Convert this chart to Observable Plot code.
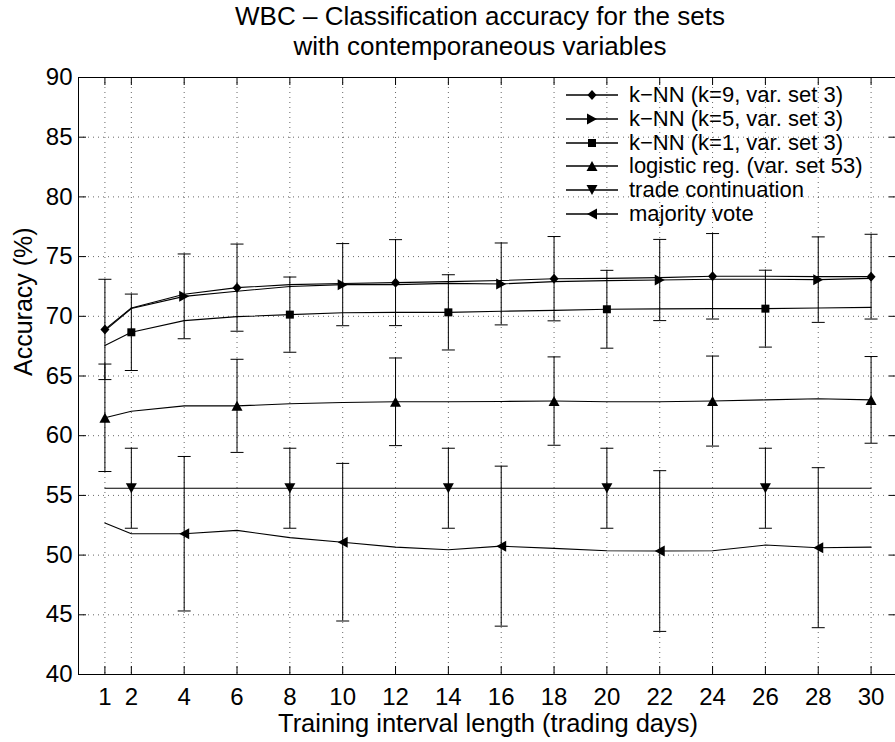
<!DOCTYPE html>
<html><head><meta charset="utf-8">
<script src="https://cdn.jsdelivr.net/npm/d3@7"></script>
<script src="https://cdn.jsdelivr.net/npm/@observablehq/plot@0.6"></script>
<style>
html,body{margin:0;padding:0;background:#fff;overflow:hidden;}
#wrap{position:relative;width:895px;height:742px;font-family:"Liberation Sans",Arial,Helvetica,sans-serif;color:#000;overflow:hidden;}
#title{position:absolute;left:0;top:1px;width:960px;text-align:center;font-size:26px;line-height:30px;white-space:nowrap;}
#chart{position:absolute;left:0;top:62px;}
.lg-row{position:absolute;left:566px;height:24px;display:flex;align-items:center;white-space:nowrap;}
.lg-row span{margin-left:11px;font-size:22px;line-height:24px;}
</style></head>
<body><div id="wrap">
<div id="title">WBC – Classification accuracy for the sets<br>with contemporaneous variables</div>
<div id="chart"></div>
<div id="legend"></div>
</div>
<script>
// ---------- data ----------
const xValues = [1, 2, 4, 6, 8, 10, 12, 14, 16, 18, 20, 22, 24, 26, 28, 30];
const xTicks = [1, 2, 4, 6, 8, 10, 12, 14, 16, 18, 20, 22, 24, 26, 28, 30];
const yTicks = [40, 45, 50, 55, 60, 65, 70, 75, 80, 85, 90];

const seriesNames = [
  "k−NN (k=9, var. set 3)",
  "k−NN (k=5, var. set 3)",
  "k−NN (k=1, var. set 3)",
  "logistic reg. (var. set 53)",
  "trade continuation",
  "majority vote"
];

const knn9 = [68.9, 70.7, 71.85, 72.4, 72.65, 72.75, 72.82, 72.9, 73.0, 73.15, 73.18, 73.24, 73.35, 73.35, 73.32, 73.32];
const knn5 = [68.8, 70.65, 71.67, 72.1, 72.5, 72.65, 72.65, 72.76, 72.71, 72.9, 72.99, 73.04, 73.1, 73.1, 73.07, 73.18];
const knn1 = [67.55, 68.66, 69.64, 69.97, 70.14, 70.3, 70.33, 70.33, 70.42, 70.5, 70.59, 70.62, 70.64, 70.64, 70.7, 70.75];
const logit = [61.5, 62.05, 62.5, 62.5, 62.67, 62.78, 62.84, 62.84, 62.87, 62.9, 62.84, 62.84, 62.9, 63.0, 63.09, 63.0];
const trade = [55.6, 55.6, 55.6, 55.6, 55.6, 55.6, 55.6, 55.6, 55.6, 55.6, 55.6, 55.6, 55.6, 55.6, 55.6, 55.6];
const majority = [52.68, 51.79, 51.79, 52.07, 51.46, 51.08, 50.67, 50.45, 50.75, 50.56, 50.37, 50.34, 50.37, 50.84, 50.62, 50.67];

// x positions that carry a marker and an error bar, per series
const knn9MarkX = [1, 6, 12, 18, 24, 30];
const knn5MarkX = [4, 10, 16, 22, 28];
const knn1MarkX = [2, 8, 14, 20, 26];
const logitMarkX = [1, 6, 12, 18, 24, 30];
const tradeMarkX = [2, 8, 14, 20, 26];
const majorityMarkX = [4, 10, 16, 22, 28];

// error bar half-widths (accuracy %), at the marker positions
const knn9Err = [4.2, 3.65, 3.6, 3.53, 3.58, 3.55];
const knn5Err = [3.55, 3.44, 3.43, 3.4, 3.58];
const knn1Err = [3.2, 3.15, 3.15, 3.26, 3.22];
const logitErr = [4.5, 3.9, 3.67, 3.7, 3.77, 3.63];
const tradeErr = [3.35, 3.35, 3.35, 3.35, 3.35];
const majorityErr = [6.47, 6.6, 6.7, 6.73, 6.7];

// ---------- symbols ----------
function sym(fn) { return {draw(ctx, size) { const r = Math.sqrt(size / Math.PI); fn(ctx, r); }}; }
const diamondSym = sym((c, r) => { c.moveTo(0, -r); c.lineTo(r * 0.9, 0); c.lineTo(0, r); c.lineTo(-r * 0.9, 0); c.closePath(); });
const squareSym = sym((c, r) => { c.rect(-r, -r, 2 * r, 2 * r); });
const triUpSym = sym((c, r) => { c.moveTo(0, -r); c.lineTo(r * 1.1, r); c.lineTo(-r * 1.1, r); c.closePath(); });
const triDownSym = sym((c, r) => { c.moveTo(0, r); c.lineTo(r * 1.1, -r); c.lineTo(-r * 1.1, -r); c.closePath(); });
const triLeftSym = sym((c, r) => { c.moveTo(-r, 0); c.lineTo(r, -r * 1.1); c.lineTo(r, r * 1.1); c.closePath(); });
const triRightSym = sym((c, r) => { c.moveTo(r, 0); c.lineTo(-r, -r * 1.1); c.lineTo(-r, r * 1.1); c.closePath(); });
const capSym = sym((c, r) => { c.moveTo(-r, 0); c.lineTo(r, 0); });

const seriesValues = [knn9, knn5, knn1, logit, trade, majority];
const seriesMarkX = [knn9MarkX, knn5MarkX, knn1MarkX, logitMarkX, tradeMarkX, majorityMarkX];
const seriesErr = [knn9Err, knn5Err, knn1Err, logitErr, tradeErr, majorityErr];
const seriesSym = [diamondSym, triRightSym, squareSym, triUpSym, triDownSym, triLeftSym];
const seriesR = [5, 5, 4, 5, 5, 5];

// ---------- tables ----------
const lineRows = [];
seriesNames.forEach((name, i) => xValues.forEach((x, j) => lineRows.push({series: name, x, y: seriesValues[i][j]})));
const markRows = seriesNames.map((name, i) => seriesMarkX[i].map((x, k) => {
  const y = seriesValues[i][xValues.indexOf(x)];
  const e = seriesErr[i][k];
  return {series: name, x, y, lo: y - e, hi: y + e};
}));
const allMarks = markRows.flat();

// ---------- plot ----------
const W = 895, H = 680, mT = 15, mB = 68, mL = 78, mR = -2;
const frameH = H - mT - mB, frameW = W - mL - mR;
const tick = 8;
const gridStyle = {stroke: "#000", strokeOpacity: 0.6, strokeWidth: 1, strokeDasharray: "1,4"};

const chart = Plot.plot({
  width: W, height: H,
  marginTop: mT, marginBottom: mB, marginLeft: mL, marginRight: mR,
  x: {domain: [0, 31]},
  y: {domain: [40, 90]},
  style: {fontFamily: "'Liberation Sans', Arial, Helvetica, sans-serif", fontSize: "24px", color: "#000", background: "transparent"},
  marks: [
    Plot.ruleX(xTicks, gridStyle),
    Plot.ruleY(yTicks.slice(1, -1), gridStyle),
    Plot.frame({stroke: "#000", strokeWidth: 1}),
    // inward ticks
    Plot.ruleX(xTicks, {insetTop: frameH - tick, stroke: "#000"}),
    Plot.ruleX(xTicks, {insetBottom: frameH - tick, stroke: "#000"}),
    Plot.ruleY(yTicks, {insetRight: frameW - tick, stroke: "#000"}),
    Plot.ruleY(yTicks, {insetLeft: frameW - tick, stroke: "#000"}),
    Plot.axisX({ticks: xTicks, tickSize: 0, tickPadding: 13, fontSize: 24, label: null, tickFormat: d => String(d)}),
    Plot.axisY({ticks: yTicks, tickSize: 0, tickPadding: 6, fontSize: 24, label: null, tickFormat: d => String(d)}),
    Plot.text(["Training interval length (trading days)"], {frameAnchor: "bottom", dy: 39, lineAnchor: "top", fontSize: 25.5}),
    Plot.text(["Accuracy (%)"], {frameAnchor: "left", dx: -55, rotate: -90, fontSize: 25}),
    // series lines
    Plot.line(lineRows, {x: "x", y: "y", z: "series", stroke: "#000", strokeWidth: 1.1}),
    // error bars
    Plot.ruleX(allMarks, {x: "x", y1: "lo", y2: "hi", stroke: "#000", strokeWidth: 1}),
    Plot.dot(allMarks, {x: "x", y: "lo", symbol: capSym, r: 6.5, stroke: "#000", fill: "none", strokeWidth: 1}),
    Plot.dot(allMarks, {x: "x", y: "hi", symbol: capSym, r: 6.5, stroke: "#000", fill: "none", strokeWidth: 1}),
    // markers
    ...markRows.map((rows, i) => Plot.dot(rows, {x: "x", y: "y", symbol: seriesSym[i], r: seriesR[i], fill: "#000", stroke: "none"}))
  ]
});
document.getElementById("chart").appendChild(chart);

// ---------- legend ----------
const legend = document.getElementById("legend");
const rowTop = 95, rowStep = 23.8;
seriesNames.forEach((name, i) => {
  const row = document.createElement("div");
  row.className = "lg-row";
  row.style.top = (rowTop + i * rowStep - 12) + "px";
  const svg = d3.create("svg").attr("width", 52).attr("height", 24);
  svg.append("line").attr("x1", 0).attr("x2", 52).attr("y1", 12).attr("y2", 12).attr("stroke", "#000").attr("stroke-width", 1.3);
  svg.append("path").attr("transform", "translate(26,12)")
    .attr("d", d3.symbol(seriesSym[i], seriesR[i] * seriesR[i] * Math.PI)())
    .attr("fill", "#000");
  row.appendChild(svg.node());
  const span = document.createElement("span");
  span.textContent = name;
  row.appendChild(span);
  legend.appendChild(row);
});
</script>
</body></html>
